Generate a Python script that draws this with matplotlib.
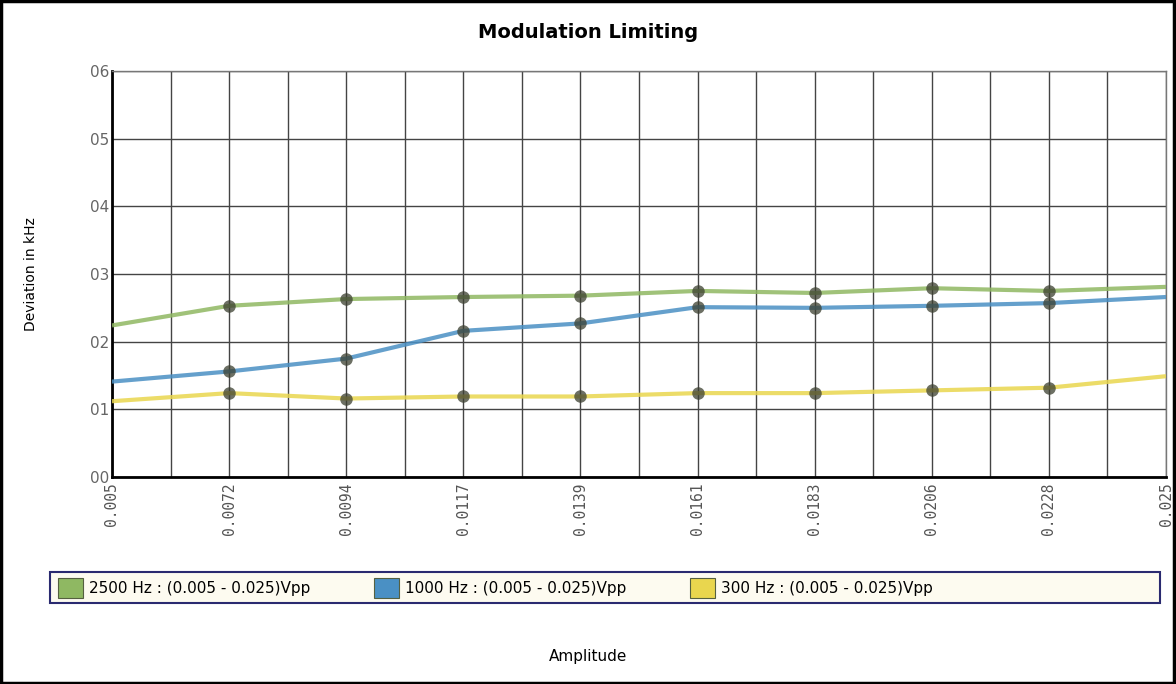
import matplotlib
matplotlib.use('Agg')
import matplotlib.pyplot as plt
from matplotlib.patches import Patch, Rectangle
import numpy as np

amplitudes = ['0.005', '0.0072', '0.0094', '0.0117', '0.0139',
              '0.0161', '0.0183', '0.0206', '0.0228', '0.025']
dev_2500 = [0.224, 0.253, 0.263, 0.266, 0.268, 0.275, 0.272, 0.279, 0.275, 0.281]
dev_1000 = [0.141, 0.156, 0.175, 0.216, 0.227, 0.251, 0.250, 0.253, 0.257, 0.266]
dev_300 = [0.112, 0.124, 0.116, 0.119, 0.119, 0.124, 0.124, 0.128, 0.132, 0.149]
y_ticks = [0.0, 0.1, 0.2, 0.3, 0.4, 0.5, 0.6]
y_tick_labels = ['00', '01', '02', '03', '04', '05', '06']
series_names = ['2500 Hz : (0.005 - 0.025)Vpp',
                '1000 Hz : (0.005 - 0.025)Vpp',
                '300 Hz : (0.005 - 0.025)Vpp']

col_green = '#8fb862'
col_blue = '#4a90c4'
col_yellow = '#e9d64e'

narrow = ['Liberation Sans Narrow', 'DejaVu Sans']

fig = plt.figure(figsize=(11.76, 6.84), dpi=100)
ax = fig.add_axes([0.0952, 0.3026, 0.8963, 0.5936])

x = np.arange(len(amplitudes))
for vals, c in [(dev_2500, col_green), (dev_1000, col_blue), (dev_300, col_yellow)]:
    ax.plot(x, vals, color=c, lw=3, alpha=0.85, solid_capstyle='butt', zorder=3)
    ax.plot(x[1:-1], vals[1:-1], 'o', ms=9, color='#3c4030', alpha=0.75,
            mec='none', zorder=4)

ax.set_xlim(0, len(amplitudes) - 1)
ax.set_ylim(0, 0.6)
ax.set_xticks(x)
ax.set_xticks(np.arange(0.5, len(amplitudes) - 1, 1.0), minor=True)
ax.set_xticklabels(amplitudes, rotation=90, family='DejaVu Sans Mono',
                   fontsize=10.5, color='#555555')
ax.set_yticks(y_ticks)
ax.set_yticklabels(y_tick_labels, fontsize=11, color='#666666')
ax.tick_params(axis='both', which='both', length=0, pad=4)
ax.tick_params(axis='y', pad=2)
ax.grid(True, which='both', color='#444444', lw=1)
ax.set_axisbelow(True)
for s in ['top', 'right']:
    ax.spines[s].set_color('#777777')
    ax.spines[s].set_linewidth(1)
for s in ['left', 'bottom']:
    ax.spines[s].set_color('black')
    ax.spines[s].set_linewidth(2)

fig.text(0.5, 0.953, 'Modulation Limiting', ha='center', va='center',
         fontsize=14, fontweight='bold', family=narrow)
fig.text(0.026, 0.6, 'Deviation in kHz', rotation=90, ha='center',
         va='center', fontsize=10, family=['DejaVu Sans'])
fig.text(0.5, 0.04, 'Amplitude', ha='center', va='center', fontsize=11,
         family=narrow)

# legend box
fig.patches.append(Rectangle((50 / 1176, 1 - 603 / 684), 1110 / 1176, 31 / 684,
                             transform=fig.transFigure, facecolor='#fdfbf0',
                             edgecolor='#2a2a70', lw=1.5, zorder=1))
handles = [Patch(facecolor=c, edgecolor='#556040', lw=0.8)
           for c in [col_green, col_blue, col_yellow]]
leg = fig.legend(handles, series_names, loc='center left',
                 bbox_to_anchor=(52 / 1176, 1 - 588 / 684), ncol=3,
                 frameon=False, handlelength=1.6, handleheight=1.6,
                 handletextpad=0.4, columnspacing=4.2, borderaxespad=0,
                 prop={'family': narrow, 'size': 11})

# outer frame
fig.patches.append(Rectangle((0.001, 0.001), 0.997, 0.997,
                             transform=fig.transFigure, fill=False,
                             edgecolor='black', lw=2.5))

fig.savefig('out.png', dpi=100)
